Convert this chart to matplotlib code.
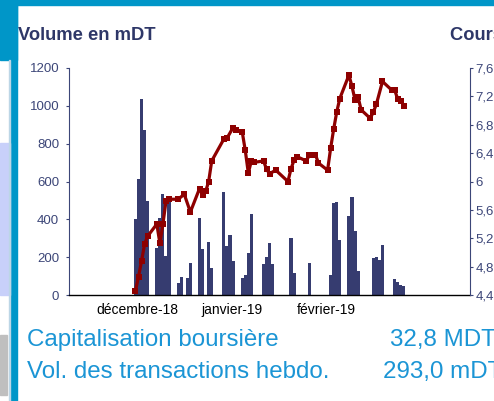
import matplotlib
matplotlib.use("Agg")
import matplotlib.pyplot as plt
from matplotlib.patches import Rectangle

plt.rcParams["font.family"] = ["Liberation Sans", "DejaVu Sans"]

# trading-day offsets from the first session, volume bars (mDT)
bar_days = [0, 1, 2, 3, 4, 7, 8, 9, 10, 11, 14, 15, 17, 18, 21, 22, 24, 25,
            29, 30, 31, 32, 35, 36, 37, 38, 42, 43, 44, 45, 51, 52, 57,
            64, 65, 66, 67, 70, 71, 72, 73, 78, 79, 80, 81, 85, 86, 87, 88]
volume = [400, 613, 1036, 872, 497, 247, 405, 532, 206, 511, 62, 97, 88, 171,
          409, 243, 282, 145, 546, 261, 317, 180, 90, 106, 224, 428,
          164, 203, 277, 162, 303, 118, 171,
          106, 488, 491, 291, 419, 520, 338, 128, 196, 201, 185, 264,
          85, 70, 55, 45]

# closing price (DT)
price_days = [0, 1, 2, 3, 4, 7, 8, 9, 10, 11, 14, 16, 18, 21, 22, 23, 24, 25,
              29, 30, 32, 33, 35, 36, 37, 38, 39, 42, 43, 44, 46, 50, 51, 52,
              53, 56, 57, 59, 60, 63, 64, 65, 66, 67, 70, 71, 72, 73, 74,
              77, 78, 79, 81, 84, 85, 86, 87, 88]
price = [4.46, 4.66, 4.88, 5.12, 5.23, 5.40, 5.13, 5.40, 5.72, 5.75, 5.75,
         5.82, 5.57, 5.90, 5.81, 5.86, 6.00, 6.29, 6.60, 6.61, 6.76, 6.73,
         6.70, 6.44, 6.12, 6.29, 6.27, 6.29, 6.17, 6.11, 6.16, 6.00, 6.18,
         6.30, 6.35, 6.29, 6.37, 6.38, 6.26, 6.16, 6.47, 6.74, 6.98, 7.17,
         7.50, 7.34, 7.15, 7.19, 7.01, 6.89, 6.98, 7.09, 7.41, 7.29, 7.29,
         7.16, 7.14, 7.07]

month_pos = [0.5, 31.5, 62.5]
month_labels = ["décembre-18", "janvier-19", "février-19"]

NAVY = "#363c70"
AXIS = "#3c4678"
RED = "#8e0000"
BLUE = "#0096c8"
TXT_BLUE = "#1b95d5"

W, H = 494, 401
fig = plt.figure(figsize=(W / 100, H / 100), dpi=100)


def px_rect(x, y, w, h, color, **kw):
    # rectangle in pixel coords (top-left origin)
    fig.patches.append(Rectangle((x / W, 1 - (y + h) / H), w / W, h / H,
                                 transform=fig.transFigure, color=color,
                                 zorder=0, **kw))


# page decoration
px_rect(0, 0, W, 5, BLUE)
px_rect(0, 0, 17, 60, BLUE)
px_rect(10, 0, 7, H, BLUE)
px_rect(0, 143, 10, 152, "#c8d0fa")
px_rect(0, 335, 7, 60, "#bfbfbf")
px_rect(9, 60, 1, H - 60, "#bcd6e6")

ax = fig.add_axes([69 / W, 1 - 295 / H, 401 / W, 227 / H])
ax.bar(bar_days, volume, width=1.0, color=NAVY, linewidth=0)
ax.set_ylim(0, 1200)
ax.set_yticks(range(0, 1201, 200))
ax.set_xlim(-21.8, 109.7)
ax.set_xticks(month_pos)
ax.set_xticklabels(month_labels, fontsize=10, color="black")
ax.tick_params(axis="x", length=0, pad=6)
ax.tick_params(axis="y", length=2, width=0.8, colors=AXIS, labelsize=9.5, pad=5)
ax.spines["top"].set_visible(False)
ax.spines["right"].set_visible(False)
ax.spines["left"].set_color(AXIS)
ax.spines["bottom"].set_color("black")
ax.spines["bottom"].set_linewidth(1.0)

ax2 = ax.twinx()
ax2.plot(price_days, price, color=RED, linewidth=2.3, marker="s",
         markersize=4.3, markeredgewidth=0)
ax2.set_ylim(4.4, 7.6)
ticks = [4.4, 4.8, 5.2, 5.6, 6.0, 6.4, 6.8, 7.2, 7.6]
ax2.set_yticks(ticks)
ax2.set_yticklabels([f"{t:g}".replace(".", ",") for t in ticks])
ax2.tick_params(axis="y", length=2, width=0.8, colors=AXIS, labelsize=9.5, pad=2)
for s in ["top", "left", "bottom"]:
    ax2.spines[s].set_visible(False)
ax2.spines["right"].set_color(AXIS)

fig.text(18 / W, 1 - 35 / H, "Volume en mDT", fontsize=13.2, fontweight="bold",
         color="#2e3768", va="center")
fig.text(450 / W, 1 - 35 / H, "Cours en DT", fontsize=13.2, fontweight="bold",
         color="#2e3768", va="center")

fig.text(27 / W, 1 - 340 / H, "Capitalisation boursière", fontsize=17.4,
         color=TXT_BLUE, va="center")
fig.text(27 / W, 1 - 372 / H, "Vol. des transactions hebdo.", fontsize=17.4,
         color=TXT_BLUE, va="center")
fig.text(390 / W, 1 - 340 / H, "32,8 MDT", fontsize=17.4, color=TXT_BLUE,
         va="center")
fig.text(383 / W, 1 - 372 / H, "293,0 mDT", fontsize=17.4, color=TXT_BLUE,
         va="center")

fig.savefig("out.png", dpi=100)
